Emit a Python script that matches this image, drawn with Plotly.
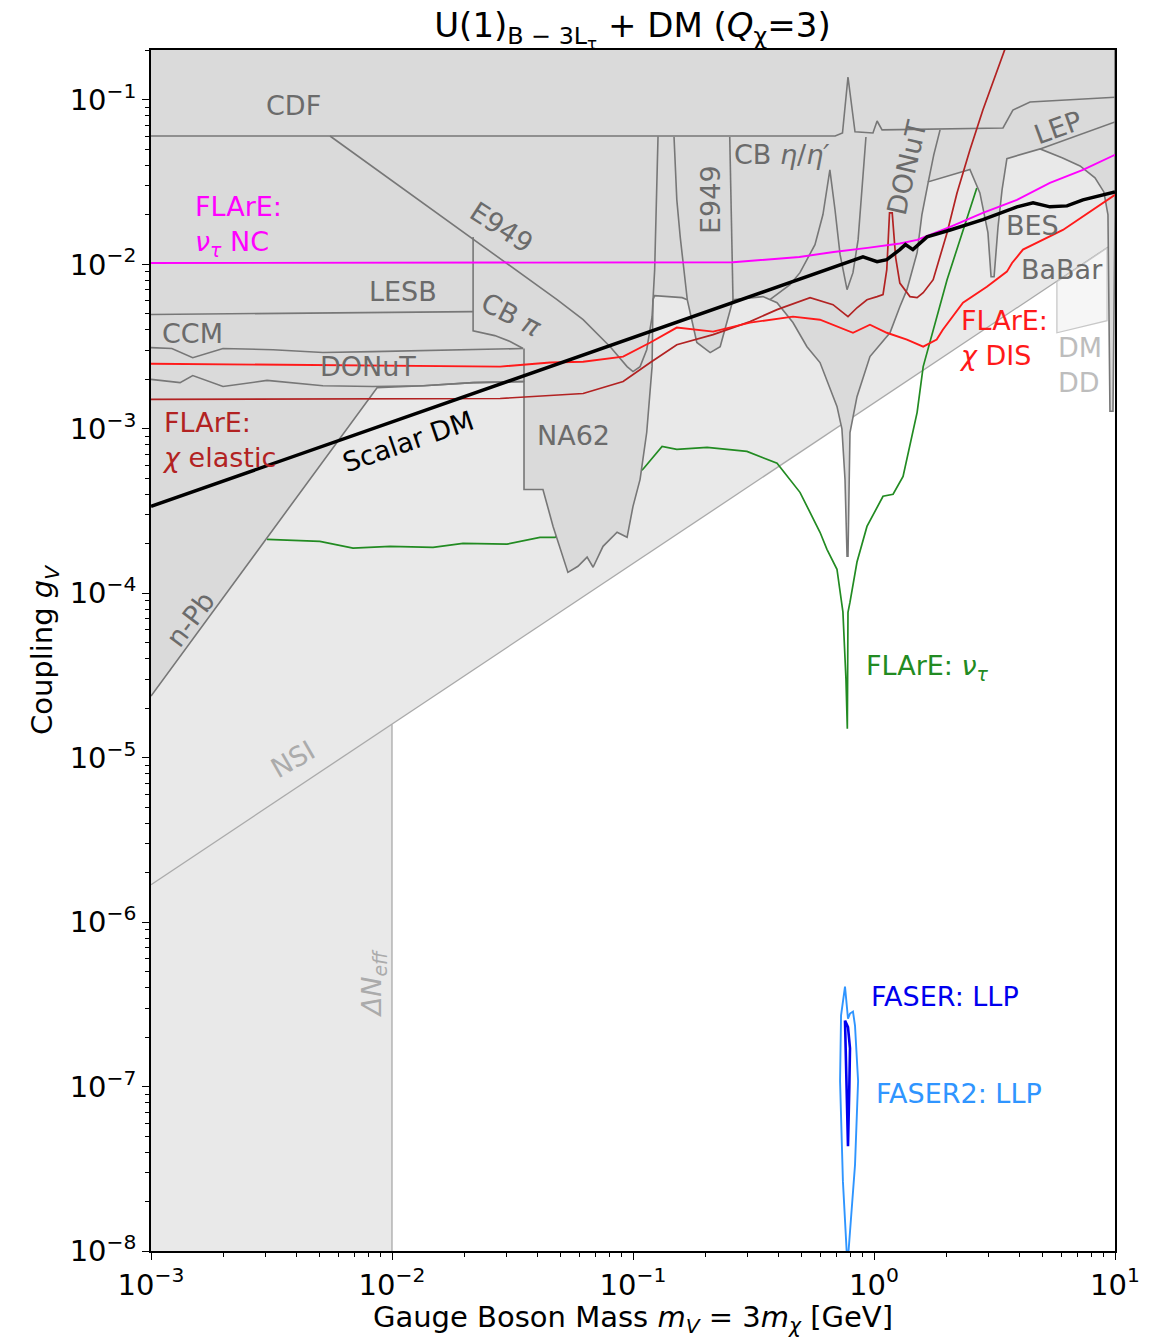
import numpy as np
import plotly.graph_objects as go

# ---------------- sensitivity / constraint curves (m_V [GeV], g_V) ----------------
scalar_dm_m = [1e-3, 0.90, 1.03, 1.13, 1.28, 1.35, 1.45, 1.66, 2.07, 2.83, 3.92, 4.57, 5.37, 6.32, 7.36, 10.0]
scalar_dm_g = [3.38e-4, 1.11e-2, 1.04e-2, 1.07e-2, 1.23e-2, 1.32e-2, 1.23e-2, 1.47e-2, 1.62e-2,
               1.87e-2, 2.24e-2, 2.37e-2, 2.24e-2, 2.27e-2, 2.47e-2, 2.76e-2]

nc_m = [1e-3, 0.03, 0.26, 0.49, 0.68, 0.94, 1.28, 1.51, 2.07, 2.83, 3.92, 5.37, 7.36, 10.0]
nc_g = [1.02e-2, 1.02e-2, 1.03e-2, 1.11e-2, 1.19e-2, 1.26e-2, 1.34e-2, 1.41e-2, 1.69e-2,
        2.06e-2, 2.47e-2, 3.13e-2, 3.76e-2, 4.64e-2]

dis_m = [1e-3, 2.81e-2, 4.53e-2, 6.21e-2, 9.1e-2, 0.118, 0.152, 0.215, 0.306, 0.461, 0.597,
         0.818, 0.962, 1.13, 1.37, 1.60, 1.82, 1.93, 2.34, 2.94, 3.56, 3.74, 4.15, 6.08, 10.0]
dis_g = [2.49e-3, 2.39e-3, 2.53e-3, 2.56e-3, 2.75e-3, 3.35e-3, 4.13e-3, 3.90e-3, 4.43e-3, 4.81e-3,
         4.61e-3, 3.84e-3, 4.30e-3, 3.84e-3, 3.49e-3, 3.16e-3, 3.49e-3, 4.01e-3, 5.85e-3, 7.32e-3,
         9.04e-3, 1.02e-2, 1.23e-2, 1.62e-2, 2.65e-2]

elastic_m = [1e-3, 2.81e-2, 6.21e-2, 9.1e-2, 0.118, 0.152, 0.215, 0.306, 0.396, 0.543, 0.676,
             0.780, 0.850, 0.935, 1.03, 1.09, 1.13, 1.16, 1.19, 1.23, 1.28, 1.41, 1.51, 1.60,
             1.76, 2.01, 2.21, 2.50, 2.83, 3.24, 3.60]
elastic_g = [1.51e-3, 1.53e-3, 1.64e-3, 1.94e-3, 2.53e-3, 3.25e-3, 3.74e-3, 4.49e-3, 5.31e-3,
             6.28e-3, 5.69e-3, 4.81e-3, 5.45e-3, 6.10e-3, 6.37e-3, 6.55e-3, 9.3e-3, 2.06e-2,
             2.06e-2, 1.10e-2, 7.7e-3, 6.37e-3, 6.28e-3, 6.73e-3, 8.07e-3, 1.56e-2, 2.72e-2,
             4.97e-2, 8.69e-2, 0.152, 0.23]

nutau_m = [3.03e-3, 5.02e-3, 6.89e-3, 9.82e-3, 1.48e-2, 1.97e-2, 3.00e-2, 4.11e-2, 4.75e-2,
           0.110, 0.132, 0.152, 0.203, 0.297, 0.396, 0.493, 0.597, 0.638, 0.702, 0.743, 0.765,
           0.775, 0.780, 0.795, 0.850, 0.935, 1.09, 1.20, 1.32, 1.51, 1.60, 1.76, 2.01, 2.67]
nutau_g = [2.13e-4, 2.07e-4, 1.88e-4, 1.93e-4, 1.90e-4, 2.01e-4, 1.99e-4, 2.19e-4, 2.19e-4,
           5.68e-4, 7.82e-4, 7.50e-4, 7.71e-4, 7.29e-4, 6.17e-4, 4.11e-4, 2.35e-4, 1.85e-4,
           1.40e-4, 7.7e-5, 3.0e-5, 1.50e-5, 7.67e-5, 8.83e-5, 1.55e-4, 2.55e-4, 3.89e-4,
           4.00e-4, 5.14e-4, 1.26e-3, 2.39e-3, 4.01e-3, 8.07e-3, 2.92e-2]

faser2_m = [0.773, 0.743, 0.723, 0.730, 0.758, 0.780, 0.795, 0.818, 0.834, 0.859, 0.834, 0.795, 0.780, 0.773]
faser2_g = [9e-9, 2.66e-8, 1.08e-7, 2.71e-7, 4.06e-7, 2.59e-7, 2.78e-7, 2.86e-7, 2.35e-7,
            1.08e-7, 3.33e-8, 1.32e-8, 9e-9, 9e-9]

faser_m = [0.758, 0.765, 0.780, 0.790, 0.795, 0.780, 0.758]
faser_g = [2.52e-7, 1.2e-7, 4.33e-8, 1.0e-7, 1.71e-7, 2.3e-7, 2.52e-7]

# ---------------- excluded regions ----------------
# outer boundary of the combined experimental exclusions
excl_m = [1e-3, 10.0, 10.0, 9.9, 9.81, 9.53, 9.44, 9.35, 8.99, 8.26, 7.16, 6.03, 4.89, 3.56,
          3.40, 3.27, 3.15, 3.06, 2.97, 2.75, 2.50, 1.68, 1.58, 1.51, 1.37, 1.28, 1.165, 0.962,
          0.850, 0.795, 0.780, 0.773, 0.758, 0.736, 0.702, 0.597, 0.527, 0.461, 0.396, 0.346,
          0.260, 0.246, 0.230, 0.209, 0.184, 0.168, 0.160, 0.123, 0.121, 0.120, 0.114, 0.107,
          0.100, 9.45e-2, 8.59e-2, 7.51e-2, 6.83e-2, 6.45e-2, 5.91e-2, 5.37e-2, 4.66e-2,
          4.23e-2, 3.53e-2, 3.53e-2, 2.17e-2, 1.35e-2, 8.67e-3, 1e-3]
excl_g = [0.3, 0.3, 2.0e-2, 6.1e-3, 1.28e-3, 1.28e-3, 6.1e-3, 2.0e-2, 2.76e-2, 3.36e-2, 3.97e-2,
          4.45e-2, 5.04e-2, 4.40e-2, 2.85e-2, 1.69e-2, 8.41e-3, 8.41e-3, 1.56e-2, 2.72e-2,
          3.78e-2, 3.18e-2, 2.00e-2, 1.18e-2, 7.02e-3, 5.53e-3, 3.84e-3, 2.75e-3, 1.57e-3,
          9.5e-4, 1.68e-4, 1.68e-4, 4.93e-4, 1.0e-3, 1.37e-3, 2.53e-3, 3.16e-3, 4.43e-3,
          5.85e-3, 6.37e-3, 6.10e-3, 4.49e-3, 3.16e-3, 2.91e-3, 3.35e-3, 6.10e-3, 6.28e-3,
          6.46e-3, 6.10e-3, 2.39e-3, 9.5e-4, 4.93e-4, 3.38e-4, 2.19e-4, 2.35e-4, 1.93e-4,
          1.44e-4, 1.66e-4, 1.46e-4, 1.34e-4, 2.55e-4, 4.28e-4, 4.28e-4, 1.94e-3, 1.91e-3,
          1.83e-3, 1.78e-3, 2.37e-5]

# internal boundaries between individual experiments
cdf_m = [1e-3, 0.69, 0.74, 0.78, 0.834, 0.99, 1.03, 1.08, 3.43, 3.77, 4.44, 10.0]
cdf_g = [6.04e-2, 6.04e-2, 6.3e-2, 0.138, 6.4e-2, 6.3e-2, 7.45e-2, 6.58e-2, 6.76e-2, 8.69e-2, 9.73e-2, 0.104]

e949_m = [5.53e-3, 4.84e-2, 6.21e-2, 8.04e-2, 9.45e-2, 0.100, 0.107, 0.114, 0.120, 0.123, 0.126, 0.127]
e949_g = [6.04e-2, 6.10e-3, 4.61e-3, 3.16e-3, 2.39e-3, 2.23e-3, 2.39e-3, 3.03e-3, 4.81e-3, 9.3e-3, 3.76e-2, 6.0e-2]

lesb_m = [1e-3, 2.17e-2]
lesb_g = [4.96e-3, 5.16e-3]

cbpi_m = [2.17e-2, 2.17e-2, 2.67e-2, 3.09e-2, 3.50e-2]
cbpi_g = [1.47e-2, 3.95e-3, 3.69e-3, 3.40e-3, 3.08e-3]

ccm_m = [1e-3, 1.22e-3, 1.49e-3, 1.99e-3, 3.21e-3, 5.17e-3, 8.34e-3, 1.35e-2, 2.17e-2, 3.50e-2]
ccm_g = [3.12e-3, 3.08e-3, 2.71e-3, 3.08e-3, 3.03e-3, 2.91e-3, 2.95e-3, 2.99e-3, 3.03e-3, 3.08e-3]

donut_m = [1e-3, 1.32e-3, 1.49e-3, 1.99e-3, 3.03e-3, 5.17e-3, 8.34e-3, 1.35e-2, 2.17e-2, 3.53e-2]
donut_g = [2.00e-3, 1.91e-3, 2.11e-3, 1.81e-3, 1.97e-3, 1.83e-3, 1.81e-3, 1.83e-3, 1.91e-3, 1.94e-3]

na62_edge_m = [3.53e-2, 3.53e-2]
na62_edge_g = [3.08e-3, 1.94e-3]

e949u_left_m = [0.148, 0.152, 0.157, 0.163, 0.168]
e949u_left_g = [5.96e-2, 2.47e-2, 1.47e-2, 9.29e-3, 6.10e-3]
e949u_right_m = [0.252, 0.257, 0.258, 0.260]
e949u_right_g = [5.96e-2, 1.47e-2, 8.0e-3, 6.1e-3]

cbeta_m = [0.370, 0.448, 0.493, 0.569, 0.614, 0.656, 0.689, 0.723, 0.773, 0.818, 0.859, 0.891, 0.926]
cbeta_g = [6.10e-3, 7.53e-3, 8.91e-3, 1.32e-2, 2.01e-2, 3.76e-2, 2.15e-2, 1.15e-2, 7.02e-3,
           8.91e-3, 1.41e-2, 2.85e-2, 5.96e-2]

donut_hi_m = [1.88, 1.77, 1.68]
donut_hi_g = [6.58e-2, 4.64e-2, 3.18e-2]

lep_m = [4.89, 10.0]
lep_g = [5.04e-2, 7.35e-2]

# neutrino non-standard interactions and Delta N_eff
nsi_m = [1e-3, 10.0]
nsi_g = [1.69e-6, 1.36e-2]
neff_m = 1e-2
neff_g_top = 1.60e-5

# direct detection
dmdd_m = [5.74, 5.74, 9.27, 9.27, 5.74]
dmdd_g = [7.85e-3, 3.84e-3, 4.55e-3, 1.26e-2, 7.85e-3]

# ---------------- styling ----------------
FONT = "DejaVu Sans"
DARK_FILL = "#dadada"
LIGHT_FILL = "#e9e9e9"
EDGE = "#777777"
LIGHT_EDGE = "#aaaaaa"
LABEL_GRAY = "#6b6b6b"

fig = go.Figure()


def line(m, g, color, width, dash=None):
    fig.add_trace(go.Scatter(x=m, y=g, mode="lines", hoverinfo="skip", showlegend=False,
                             line=dict(color=color, width=width, dash=dash)))


def region(m, g, fill, edge, width):
    fig.add_trace(go.Scatter(x=m, y=g, mode="lines", fill="toself", fillcolor=fill,
                             hoverinfo="skip", showlegend=False,
                             line=dict(color=edge, width=width)))


# light region: NSI (above the diagonal) plus Delta N_eff (below 10 MeV)
light_m = [nsi_m[0], neff_m, neff_m, nsi_m[1], nsi_m[1], nsi_m[0]]
light_g = [5e-9, 5e-9, neff_g_top, nsi_g[1], 0.3, 0.3]
region(light_m, light_g, LIGHT_FILL, "rgba(0,0,0,0)", 0)
line(nsi_m, nsi_g, LIGHT_EDGE, 1.3)
line([neff_m, neff_m], [1e-8, neff_g_top], LIGHT_EDGE, 1.3)
region(dmdd_m, dmdd_g, "#f6f6f6", "#c8c8c8", 1.3)

# FLArE nu_tau sensitivity sits beneath the exclusion fills
line(nutau_m, nutau_g, "#228b22", 1.7)

# combined exclusions
region(excl_m, excl_g, DARK_FILL, EDGE, 1.6)
for m, g in [(cdf_m, cdf_g), (e949_m, e949_g), (lesb_m, lesb_g), (cbpi_m, cbpi_g),
             (ccm_m, ccm_g), (donut_m, donut_g), (na62_edge_m, na62_edge_g),
             (e949u_left_m, e949u_left_g), (e949u_right_m, e949u_right_g),
             (cbeta_m, cbeta_g), (donut_hi_m, donut_hi_g), (lep_m, lep_g)]:
    line(m, g, EDGE, 1.6)

# projected sensitivities and relic target
line(elastic_m, elastic_g, "#b22222", 1.7)
line(dis_m, dis_g, "#ff1a1a", 1.9)
line(nc_m, nc_g, "#ff00ff", 1.9)
line(scalar_dm_m, scalar_dm_g, "black", 3.5)
line(faser2_m, faser2_g, "#2f95ff", 1.9)
line(faser_m, faser_g, "#0000ee", 2.6)

# ---------------- labels ----------------
labels = [
    # text, m, g, color, angle, xanchor
    ("CDF", 3.92e-3, 9.2e-2, LABEL_GRAY, 0, "center"),
    ("E949", 2.86e-2, 1.67e-2, LABEL_GRAY, 33, "center"),
    ("LESB", 1.11e-2, 6.82e-3, LABEL_GRAY, 0, "center"),
    ("CB <i>π</i>", 3.12e-2, 4.96e-3, LABEL_GRAY, 27, "center"),
    ("CCM", 1.49e-3, 3.79e-3, LABEL_GRAY, 0, "center"),
    ("DONuT", 7.94e-3, 2.39e-3, LABEL_GRAY, 0, "center"),
    ("E949", 0.211, 2.47e-2, LABEL_GRAY, -90, "center"),
    ("CB <i>η</i>/<i>η′</i>", 0.415, 4.64e-2, LABEL_GRAY, 0, "center"),
    ("DONuT", 1.37, 3.87e-2, LABEL_GRAY, -77, "center"),
    ("LEP", 5.80, 6.76e-2, LABEL_GRAY, -20, "center"),
    ("BES", 4.53, 1.72e-2, LABEL_GRAY, 0, "center"),
    ("BaBar", 6.03, 9.29e-3, LABEL_GRAY, 0, "center"),
    ("DM<br>DD", 7.16, 2.43e-3, "#bdbdbd", 0, "center"),
    ("NA62", 5.69e-2, 9.12e-4, LABEL_GRAY, 0, "center"),
    ("n-Pb", 1.45e-3, 6.97e-5, LABEL_GRAY, -53, "center"),
    ("NSI", 3.85e-3, 9.8e-6, "#ababab", -30, "center"),
    ("<i>ΔN<sub>eff</sub></i>", 8.41e-3, 4.24e-7, "#ababab", -90, "center"),
    ("Scalar DM", 1.16e-2, 8.38e-4, "black", -19, "center"),
    ("FLArE:<br><i>ν<sub>τ</sub></i> NC", 1.49e-3, 1.72e-2, "#ff00ff", 0, "left"),
    ("FLArE:<br><i>χ</i> elastic", 1.09e-3, 8.5e-4, "#b22222", 0, "left"),
    ("FLArE:<br><i>χ</i> DIS", 2.21, 3.59e-3, "#ff1a1a", 0, "left"),
    ("FLArE: <i>ν<sub>τ</sub></i>", 0.909, 3.56e-5, "#228b22", 0, "left"),
    ("FASER: LLP", 0.953, 3.53e-7, "#0000ee", 0, "left"),
    ("FASER2: LLP", 1.0, 9.1e-8, "#2f95ff", 0, "left"),
]
for text, m, g, color, angle, xa in labels:
    fig.add_annotation(x=np.log10(m), y=np.log10(g), xref="x", yref="y", text=text,
                       showarrow=False, textangle=angle, xanchor=xa, yanchor="middle",
                       align="left", font=dict(family=FONT, size=27, color=color))

# ---------------- axes ----------------
x_ticks = [1e-3, 1e-2, 1e-1, 1e0, 1e1]
x_ticktext = ["10<sup>−3</sup>", "10<sup>−2</sup>", "10<sup>−1</sup>", "10<sup>0</sup>", "10<sup>1</sup>"]
y_ticks = [1e-8, 1e-7, 1e-6, 1e-5, 1e-4, 1e-3, 1e-2, 1e-1]
y_ticktext = ["10<sup>−8</sup>", "10<sup>−7</sup>", "10<sup>−6</sup>", "10<sup>−5</sup>",
              "10<sup>−4</sup>", "10<sup>−3</sup>", "10<sup>−2</sup>", "10<sup>−1</sup>"]
x_minor = [k * 10.0 ** e for e in range(-3, 1) for k in range(2, 10)]
y_minor = [k * 10.0 ** e for e in range(-8, 0) for k in range(2, 10)]

axis_common = dict(type="log", showgrid=False, zeroline=False, showline=True, linecolor="black",
                   linewidth=1.5, mirror=True, ticks="outside", ticklen=7, tickwidth=1.3,
                   tickcolor="black", tickfont=dict(family=FONT, size=29, color="black"))

fig.update_xaxes(range=[-3, 1], tickvals=x_ticks, ticktext=x_ticktext,
                 minor=dict(tickvals=x_minor, ticks="outside", ticklen=4, tickwidth=1, tickcolor="black"),
                 title=dict(text="Gauge Boson Mass <i>m<sub>V</sub></i> = 3<i>m<sub>χ</sub></i> [GeV]",
                            font=dict(family=FONT, size=29, color="black"), standoff=4),
                 **axis_common)
fig.update_yaxes(range=[-8, -0.696], tickvals=y_ticks, ticktext=y_ticktext,
                 minor=dict(tickvals=y_minor, ticks="outside", ticklen=4, tickwidth=1, tickcolor="black"),
                 title=dict(text="Coupling <i>g<sub>V</sub></i>",
                            font=dict(family=FONT, size=29, color="black"), standoff=8),
                 **axis_common)

fig.update_layout(
    width=1162, height=1338,
    margin=dict(l=151, r=47, t=50, b=85),
    paper_bgcolor="white", plot_bgcolor="white",
    title=dict(text="U(1)<sub>B − 3L<sub>τ</sub></sub> + DM (<i>Q</i><sub>χ</sub>=3)",
               x=0.5443, xanchor="center", y=0.981, yanchor="middle",
               font=dict(family=FONT, size=34, color="black")),
    showlegend=False,
)

fig.write_html("out.html")
